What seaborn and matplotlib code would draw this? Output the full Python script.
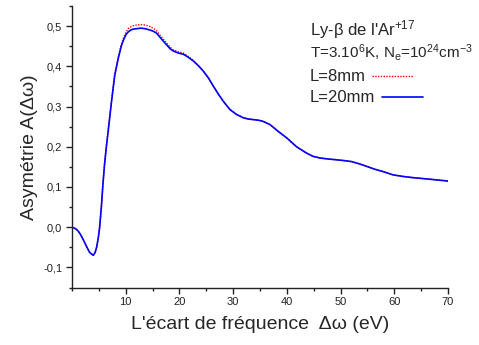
import matplotlib
matplotlib.use("Agg")
import matplotlib.pyplot as plt
from matplotlib.lines import Line2D
from matplotlib.ticker import MultipleLocator, FuncFormatter
import seaborn as sns
import pandas as pd

# Frequency offset (eV)
delta_omega = [0.0, 0.7, 1.1, 1.49, 2.1, 2.74, 3.3, 3.95, 4.3, 4.6, 4.9,
               5.15, 5.47, 5.77, 6.08, 6.4, 6.83, 7.33, 7.94, 8.57, 9.19,
               9.6, 10.1, 10.5, 11.05, 11.6, 12.3, 12.8, 13.4, 13.8, 14.3,
               14.8, 15.3, 15.77, 16.4, 17.3, 18.25, 18.86, 19.8, 20.73,
               21.6, 22.6, 23.5, 24.45, 25.4, 26.3, 27.2, 28.17, 29.4, 30.67,
               31.9, 32.8, 33.76, 34.7, 35.6, 36.87, 37.6, 38.4, 39.98, 41.8,
               43.7, 44.9, 46.18, 47.7, 49.3, 50.7, 52.1, 53.6, 54.9, 56.4,
               57.97, 59.8, 61.7, 63.6, 66.05, 67.9, 69.8, 70.0]

# Asymmetry A(Δω) for L = 20 mm
asym_20mm = [0.0, -0.004, -0.009, -0.016, -0.031, -0.049, -0.063, -0.070,
             -0.063, -0.049, -0.026,
             0.0, 0.051, 0.109, 0.159, 0.200, 0.250, 0.309, 0.376, 0.4175,
             0.451, 0.466, 0.480, 0.486, 0.491, 0.493, 0.494, 0.495, 0.494,
             0.493, 0.491, 0.489, 0.486, 0.482, 0.472, 0.458, 0.444, 0.438,
             0.433, 0.430, 0.423, 0.413, 0.402, 0.388, 0.371, 0.351, 0.332,
             0.313, 0.2925, 0.280, 0.272, 0.269, 0.2675, 0.266, 0.263, 0.255,
             0.247, 0.238, 0.222, 0.200, 0.184, 0.176, 0.172, 0.1695, 0.1675,
             0.1655, 0.163, 0.157, 0.151, 0.144, 0.138, 0.130, 0.126, 0.123,
             0.120, 0.1175, 0.115, 0.114]

# Asymmetry A(Δω) for L = 8 mm
asym_8mm = [0.0, -0.004, -0.009, -0.016, -0.031, -0.049, -0.063, -0.070,
            -0.063, -0.049, -0.026,
            0.0, 0.051, 0.110, 0.160, 0.202, 0.253, 0.312, 0.379, 0.421,
            0.455, 0.471, 0.486, 0.494, 0.499, 0.502, 0.503, 0.504, 0.503,
            0.502, 0.500, 0.497, 0.493, 0.488, 0.477, 0.463, 0.448, 0.441,
            0.436, 0.433, 0.425, 0.415, 0.402, 0.388, 0.371, 0.351, 0.332,
            0.313, 0.2925, 0.280, 0.272, 0.269, 0.2675, 0.266, 0.263, 0.255,
            0.247, 0.238, 0.222, 0.200, 0.184, 0.176, 0.172, 0.1695, 0.1675,
            0.1655, 0.163, 0.157, 0.151, 0.144, 0.138, 0.130, 0.126, 0.123,
            0.120, 0.1175, 0.115, 0.114]

x_ticks = [10, 20, 30, 40, 50, 60, 70]
y_ticks = [-0.1, 0.0, 0.1, 0.2, 0.3, 0.4, 0.5]

sns.set_style("ticks")
plt.rcParams["font.family"] = ["Liberation Sans", "DejaVu Sans"]
plt.rcParams["mathtext.fontset"] = "custom"
plt.rcParams["mathtext.rm"] = "Liberation Sans"
plt.rcParams["mathtext.it"] = "Liberation Sans:italic"

df = pd.DataFrame({"x": delta_omega, "L8": asym_8mm, "L20": asym_20mm})

W, H = 479, 345
fig = plt.figure(figsize=(W / 100, H / 100), dpi=100)
ax = fig.add_axes([72 / W, 1 - 287.5 / H, (448 - 72) / W, (287.5 - 6) / H])

sns.lineplot(data=df, x="x", y="L8", ax=ax, color="red", linestyle=(0, (1, 1)),
             linewidth=1.0, legend=False)
sns.lineplot(data=df, x="x", y="L20", ax=ax, color="blue", linewidth=1.2,
             legend=False)

ax.set_xlim(0, 70)
ax.set_ylim(-0.15, 0.55)
ax.set_xticks(x_ticks)
ax.set_yticks(y_ticks)
ax.xaxis.set_minor_locator(MultipleLocator(5))
ax.yaxis.set_minor_locator(MultipleLocator(0.05))
ax.xaxis.set_major_formatter(FuncFormatter(lambda v, p: f"{v:.0f}"))
ax.yaxis.set_major_formatter(
    FuncFormatter(lambda v, p: f"{v:.1f}".replace(".", ",").replace("-0,0", "0,0")))
ax.tick_params(axis="both", which="major", direction="out", length=4, width=1,
               labelsize=8, colors="#222222", pad=3)
ax.tick_params(axis="both", which="minor", direction="out", length=2.5, width=1,
               colors="#222222")
for s in ("left", "bottom"):
    ax.spines[s].set_color("#222222")
    ax.spines[s].set_linewidth(1)
sns.despine(ax=ax)

ax.set_xlabel("L'écart de fréquence  Δω (eV)", fontsize=14, labelpad=6)
ax.set_ylabel("Asymétrie A(Δω)", fontsize=14, labelpad=4)

# Annotation block with the plasma conditions and line keys
tx = 310 / W
fig.text(tx, 1 - 35 / H, "Ly-β de l'Ar$\\mathregular{^{+17}}$", fontsize=12,
         va="baseline", ha="left")
fig.text(tx, 1 - 58 / H,
         "T=3.10$\\mathregular{^6}$K, N$\\mathregular{_e}$=10$\\mathregular{^{24}}$"
         "cm$\\mathregular{^{-3}}$", fontsize=11.0, va="baseline", ha="left")
fig.text(tx, 1 - 81 / H, "L=8mm", fontsize=12, va="baseline", ha="left")
fig.text(tx, 1 - 102 / H, "L=20mm", fontsize=12, va="baseline", ha="left")
fig.add_artist(Line2D([372 / W, 413 / W], [1 - 76 / H, 1 - 76 / H],
                      transform=fig.transFigure, color="red",
                      linestyle=(0, (1, 1)), linewidth=1.0))
fig.add_artist(Line2D([382 / W, 423 / W], [1 - 97 / H, 1 - 97 / H],
                      transform=fig.transFigure, color="blue", linewidth=1.2))

fig.savefig("out.png", dpi=100)
